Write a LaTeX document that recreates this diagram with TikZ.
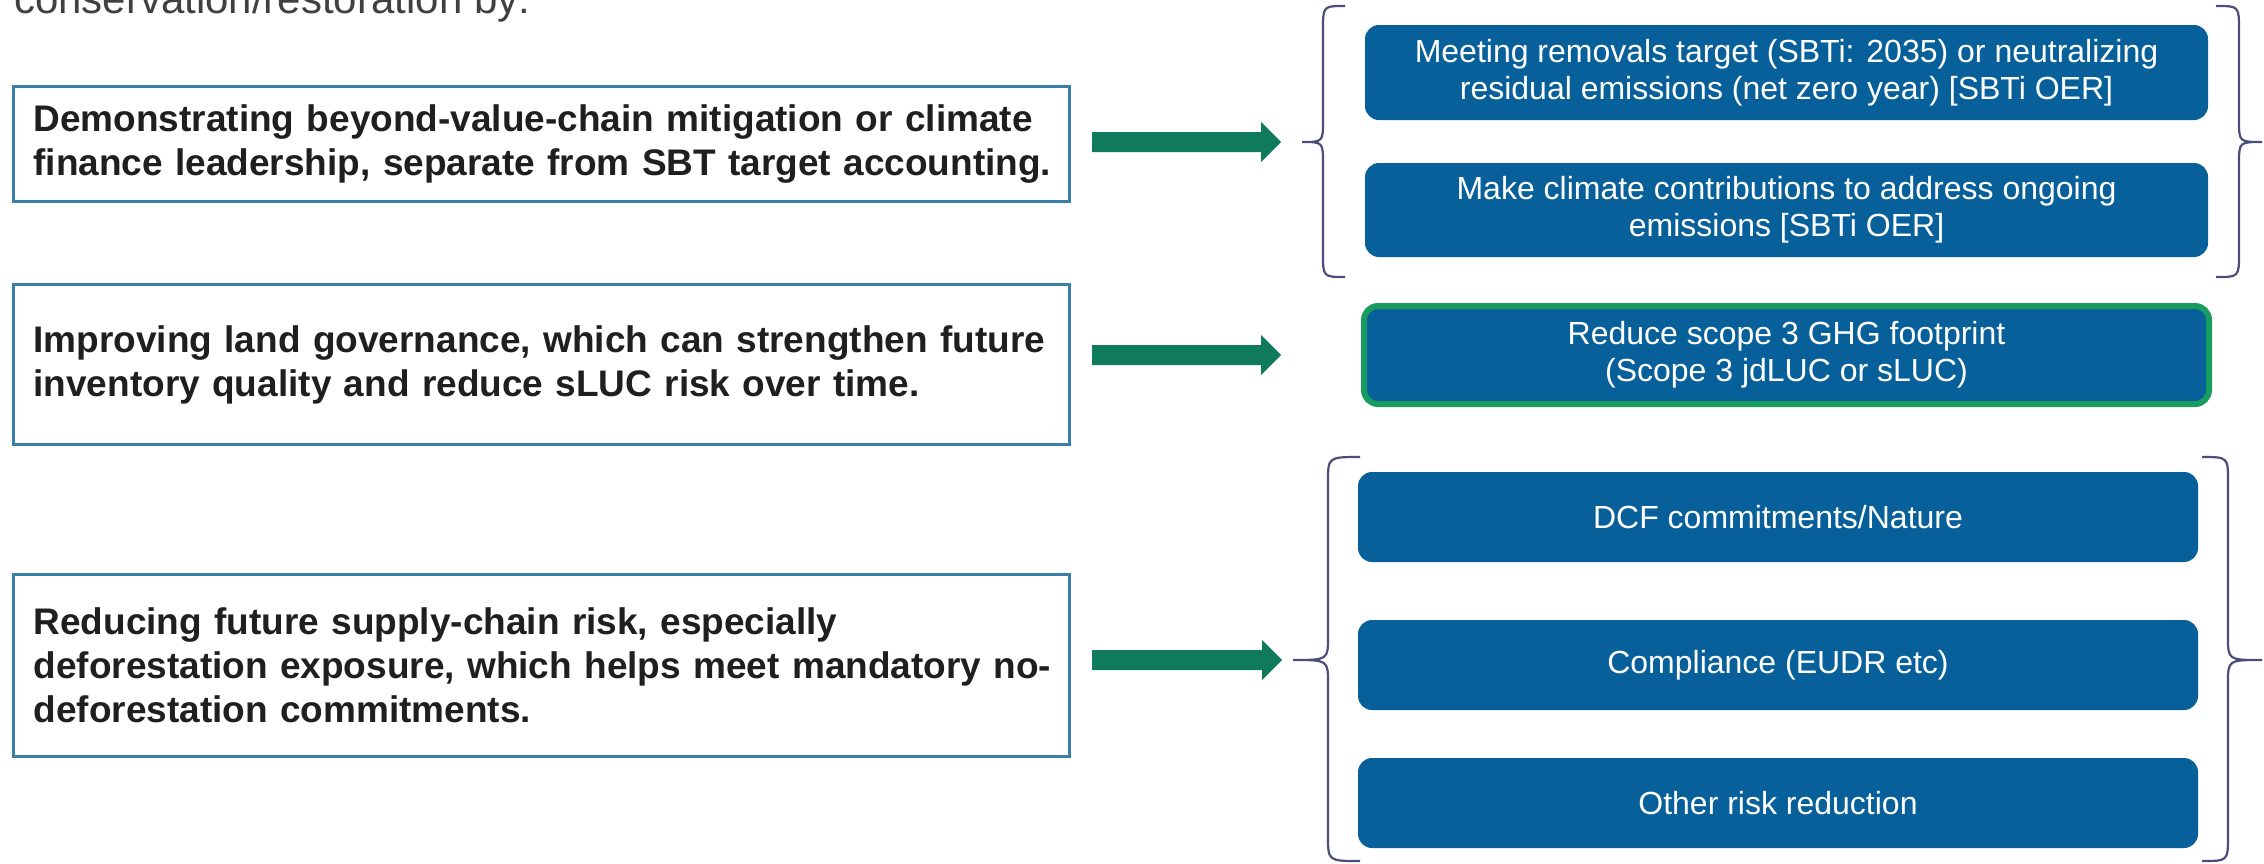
\documentclass[tikz,border=0pt]{standalone}
\usepackage{fontspec}
\setmainfont{Liberation Sans}
\usetikzlibrary{calc}
\definecolor{boxblue}{HTML}{07609A}
\definecolor{edgegreen}{HTML}{179B5E}
\definecolor{arrowgreen}{HTML}{0F7A5C}
\definecolor{leftedge}{HTML}{3A7FA8}
\definecolor{bracecol}{HTML}{4A4F7A}
\definecolor{darktext}{HTML}{1F1F1F}
\definecolor{greytext}{HTML}{404040}
\tikzset{
  leftbox/.style={draw=leftedge, line width=3pt, fill=white, minimum width=1056pt,
    text width=1016pt, inner xsep=20pt, align=left, text=darktext,
    font=\fontsize{37}{44}\selectfont\bfseries},
  bluebox/.style={fill=boxblue, rounded corners=14pt, text=white, align=center,
    font=\fontsize{32}{37}\selectfont, inner sep=0pt},
  greenbox/.style={bluebox, draw=edgegreen, line width=6pt},
  bracestyle/.style={draw=bracecol, line width=2.2pt},
  arrowfill/.style={fill=arrowgreen}
}
\begin{document}
\begin{tikzpicture}[x=1pt, y=-1pt]
\clip (0,0) rectangle (2264,863);
\fill[white] (0,0) rectangle (2264,863);

% heading (cut off at top)
\node[anchor=base west, inner sep=0pt, text=greytext, font=\fontsize{42}{48}\selectfont] (head) at (14,13) {conservation/restoration by:};

% left boxes
\node[leftbox, minimum height=115pt] (b1) at (541.5,144)
  {\mbox{Demonstrating beyond-value-chain mitigation or climate}\\\mbox{finance leadership, separate from SBT target accounting.}};
\node[leftbox, minimum height=160pt] (b2) at (541.5,364.5)
  {\mbox{Improving land governance, which can strengthen future}\\\mbox{inventory quality and reduce sLUC risk over time.}};
\node[leftbox, minimum height=182pt] (b3) at (541.5,665.5)
  {\mbox{Reducing future supply-chain risk, especially}\\\mbox{deforestation exposure, which helps meet mandatory no-}\\\mbox{deforestation commitments.}};

% right blue boxes
\node[bluebox, minimum width=843pt, minimum height=95pt] (r1) at (1786.5,72.5)
  {Meeting removals target (SBTi: 2035) or neutralizing\\residual emissions (net zero year) [SBTi OER]};
\node[bluebox, minimum width=843pt, minimum height=94pt] (r2) at (1786.5,210)
  {Make climate contributions to address ongoing\\emissions [SBTi OER]};
\node[greenbox, minimum width=845pt, minimum height=98pt] (g) at (1786.5,355)
  {Reduce scope 3 GHG footprint\\(Scope 3 jdLUC or sLUC)};
\node[bluebox, minimum width=840pt, minimum height=90pt] (r3) at (1778,517) {DCF commitments/Nature};
\node[bluebox, minimum width=840pt, minimum height=90pt] (r4) at (1778,665) {Compliance (EUDR etc)};
\node[bluebox, minimum width=840pt, minimum height=90pt] (r5) at (1778,803) {Other risk reduction};

% braces, top group
\coordinate (t1) at (1302,142);
\draw[bracestyle] (1345,6) .. controls (1323,6) .. (1323,30) -- (1323,120)
  .. controls (1323,142) .. (t1) .. controls (1323,142) .. (1323,164) -- (1323,253)
  .. controls (1323,277) .. (1345,277);
\draw[bracestyle] (2216,6) .. controls (2239,6) .. (2239,30) -- (2239,120)
  .. controls (2239,142) .. (2262,142) .. controls (2239,142) .. (2239,164) -- (2239,253)
  .. controls (2239,277) .. (2216,277);

% braces, bottom group
\coordinate (t3) at (1293,660);
\draw[bracestyle] (1360,457) .. controls (1328,457) .. (1328,482) -- (1328,637)
  .. controls (1328,660) .. (t3) .. controls (1328,660) .. (1328,683) -- (1328,836)
  .. controls (1328,861) .. (1360,861);
\draw[bracestyle] (2202,457) .. controls (2228,457) .. (2228,482) -- (2228,637)
  .. controls (2228,660) .. (2262,660) .. controls (2228,660) .. (2228,683) -- (2228,836)
  .. controls (2228,861) .. (2202,861);

% block arrows
\path (b1.east |- t1) ++(21,0) coordinate (a1s);
\path (t1) ++(-21,0) coordinate (a1e);
\path (b2.east |- g.west) ++(21,0) coordinate (a2s);
\path (g.west) ++(-80,0) coordinate (a2e);
\path (b3.east |- t3) ++(21,0) coordinate (a3s);
\path (t3) ++(-11,0) coordinate (a3e);
\foreach \s/\e in {a1s/a1e, a2s/a2e, a3s/a3e}{
  \fill[arrowfill] ($(\s)+(0,-10)$) -- ($(\e)+(-20,-10)$) -- ($(\e)+(-20,-20)$) -- (\e)
    -- ($(\e)+(-20,20)$) -- ($(\e)+(-20,10)$) -- ($(\s)+(0,10)$) -- cycle;
}
\end{tikzpicture}
\end{document}
